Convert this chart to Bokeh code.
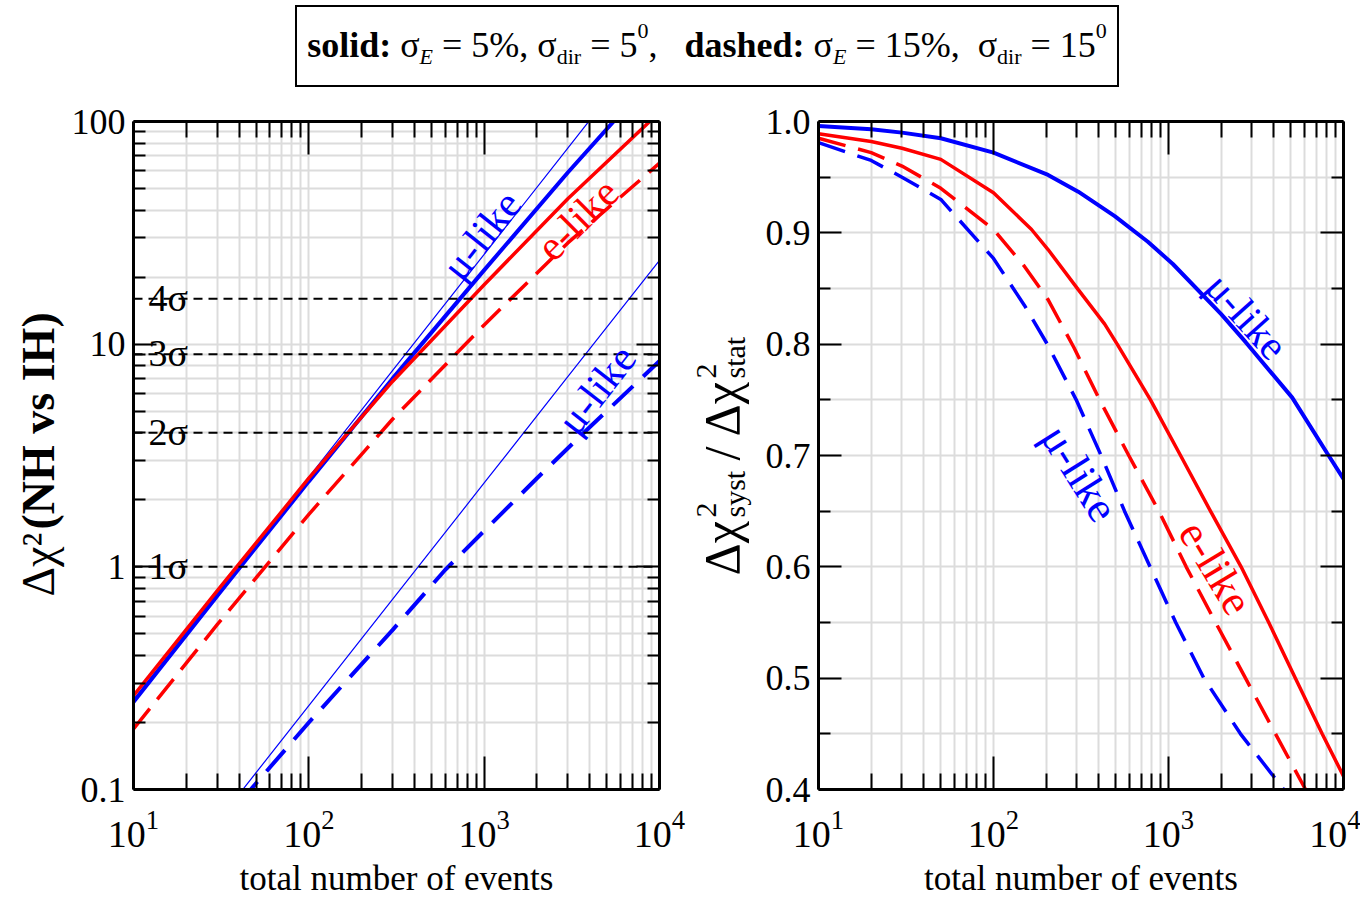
from bokeh.plotting import figure
from bokeh.models import (FixedTicker, LogAxis, LinearAxis, Label, Span, LogTickFormatter,
                          CustomJSTickFormatter, NumeralTickFormatter, Div)
from bokeh.layouts import column, row
from bokeh.embed import file_html
from bokeh.resources import INLINE

# ---------------- data ----------------
# left panel: Delta chi^2 (NH vs IH) vs total number of events
n_left = [10, 30, 100, 300, 1000, 3000, 10000]
chi2_mu_stat = [0.253, 0.76, 2.53, 7.6, 25.3, 76.0, 253.0]        # thin blue (upper)
chi2_mu_solid = [0.247, 0.74, 2.42, 7.0, 21.5, 59.0, 170.0]       # thick blue solid
chi2_e_solid = [0.264, 0.78, 2.5, 6.8, 18.5, 45.0, 110.0]         # red solid
chi2_e_dashed = [0.187, 0.55, 1.72, 4.6, 12.2, 28.5, 65.0]        # red dashed
chi2_mu_stat_low = [0.0238, 0.0714, 0.238, 0.714, 2.38, 7.14, 23.8]  # thin blue (lower)
n_mu_dashed = [40, 100, 300, 600, 1000, 2000, 3700, 10000]
chi2_mu_dashed = [0.087, 0.2, 0.52, 0.97, 1.45, 2.5, 4.0, 8.4]    # thick blue dashed

sigma_levels = [1, 4, 9, 16]
sigma_labels = ["1σ", "2σ", "3σ", "4σ"]

# right panel: ratio syst / stat
n_mu_solid_r = [10, 20, 30, 50, 100, 205, 305, 493, 762, 1059, 2000, 2754, 5093, 8067, 10000]
ratio_mu_solid = [0.996, 0.993, 0.990, 0.985, 0.972, 0.952, 0.937, 0.915, 0.892, 0.872,
                  0.827, 0.802, 0.752, 0.702, 0.679]
n_e_solid_r = [10, 20, 30, 50, 100, 165, 205, 305, 432, 509, 789, 1172, 1738, 2600, 3740,
               5310, 7550, 10000]
ratio_e_solid = [0.989, 0.982, 0.976, 0.966, 0.936, 0.903, 0.885, 0.849, 0.818, 0.800, 0.750,
                 0.700, 0.650, 0.600, 0.550, 0.500, 0.450, 0.412]
n_e_dashed_r = [10, 20, 30, 50, 100, 150, 205, 288, 404, 593, 881, 1262, 1815, 2754, 4087, 6070]
ratio_e_dashed = [0.985, 0.972, 0.960, 0.940, 0.903, 0.870, 0.840, 0.797, 0.750, 0.700,
                  0.650, 0.600, 0.553, 0.500, 0.450, 0.400]
n_mu_dashed_r = [10, 20, 30, 50, 100, 150, 203, 297, 412, 561, 785, 1100, 1592, 2578, 4560]
ratio_mu_dashed = [0.981, 0.965, 0.950, 0.930, 0.877, 0.835, 0.800, 0.750, 0.700, 0.650,
                   0.600, 0.550, 0.500, 0.450, 0.400]

# ticks
x_ticks = [10, 100, 1000, 10000]
x_minor = [m * d for d in (10, 100, 1000) for m in range(2, 10)]
left_y_ticks = [0.1, 1, 10, 100]
left_y_minor = [m * d for d in (0.1, 1, 10) for m in range(2, 10)]
right_y_ticks = [0.4, 0.5, 0.6, 0.7, 0.8, 0.9, 1.0]
right_y_minor = [0.45, 0.55, 0.65, 0.75, 0.85, 0.95]

# ---------------- styling ----------------
FONT = "Liberation Serif"
BLUE = "#0000ff"
RED = "#ff0000"
GRID = "#dcdcdc"
BORDER_TOP = 27
FRAME_H = 668
BORDER_BOTTOM = 112
FIG_H = BORDER_TOP + FRAME_H + BORDER_BOTTOM


def hide_labels(ax):
    ax.formatter = CustomJSTickFormatter(code="return '';")
    ax.major_label_text_font_size = "10px"
    ax.major_label_standoff = 0


def setup(p, y_axis_cls, y_ticks, y_minor, y_formatter):
    p.background_fill_color = "white"
    p.border_fill_color = "white"
    p.outline_line_color = None

    xt = FixedTicker(ticks=x_ticks, minor_ticks=x_minor)
    yt = FixedTicker(ticks=y_ticks, minor_ticks=y_minor)

    bottom = p.below[0]
    left = p.left[0]
    top = LogAxis()
    p.add_layout(top, "above")
    right = y_axis_cls()
    p.add_layout(right, "right")

    for ax in [bottom, top]:
        ax.ticker = xt
        ax.major_tick_in = 33
        ax.major_tick_out = 0
        ax.minor_tick_in = 16
        ax.minor_tick_out = 0
    hide_labels(top)
    bottom.formatter = LogTickFormatter()
    bottom.major_label_text_font = FONT
    bottom.major_label_text_font_size = "38px"
    bottom.major_label_text_color = "black"
    bottom.major_label_standoff = 21
    bottom.axis_label = "total number of events"
    bottom.axis_label_text_font = FONT
    bottom.axis_label_text_font_size = "35px"
    bottom.axis_label_text_font_style = "normal"
    bottom.axis_label_text_color = "black"
    bottom.axis_label_standoff = 9

    for ax in [left, right]:
        ax.ticker = yt
        ax.major_tick_in = 23
        ax.major_tick_out = 0
        ax.minor_tick_in = 12
        ax.minor_tick_out = 0
    hide_labels(right)
    left.formatter = y_formatter
    left.major_label_text_font = FONT
    left.major_label_text_font_size = "36px"
    left.major_label_text_color = "black"
    left.major_label_standoff = 8
    for ax in [bottom, top, left, right]:
        ax.axis_line_width = 3
        ax.axis_line_color = "black"
        ax.major_tick_line_width = 2
        ax.minor_tick_line_width = 2
        ax.major_tick_line_color = "black"
        ax.minor_tick_line_color = "black"

    p.xgrid.ticker = xt
    p.ygrid.ticker = yt
    for g in [p.xgrid, p.ygrid]:
        g.grid_line_color = GRID
        g.grid_line_width = 2
        g.minor_grid_line_color = GRID
        g.minor_grid_line_width = 2


def lab(x, y, text, color, angle, size="42px"):
    return Label(x=x, y=y, text=text, angle=angle, text_align="center",
                 text_baseline="middle", text_font=FONT, text_font_size=size,
                 text_color=color)


def label_strip(width, pieces):
    """Narrow figure whose frame holds a composed, rotated axis title.
    Each piece is anchored at the middle of its text line."""
    s = figure(frame_width=width, frame_height=FIG_H, x_range=(0, width), y_range=(0, FIG_H),
               min_border=0, x_axis_location=None, y_axis_location=None,
               output_backend="svg", toolbar_location=None)
    s.outline_line_color = None
    s.background_fill_color = "white"
    s.border_fill_color = "white"
    s.xgrid.visible = False
    s.ygrid.visible = False
    for txt, xx, yy, sz, style in pieces:
        s.add_layout(Label(x=xx, y=yy, text=txt, angle=1.5708, text_align="left",
                           text_baseline="middle", text_font=FONT, text_font_size=sz,
                           text_font_style=style, text_color="black"))
    return s


# ---------------- left panel ----------------
p1 = figure(frame_width=526, frame_height=FRAME_H, x_axis_type="log", y_axis_type="log",
            x_range=(10, 10000), y_range=(0.1, 100), output_backend="svg",
            toolbar_location=None, min_border_left=65, min_border_right=29,
            min_border_top=BORDER_TOP, min_border_bottom=BORDER_BOTTOM)
setup(p1, LogAxis, left_y_ticks, left_y_minor,
      CustomJSTickFormatter(code="return tick < 1 ? tick.toFixed(1) : tick.toFixed(0);"))

for lev, txt in zip(sigma_levels, sigma_labels):
    p1.add_layout(Span(location=lev, dimension="width", line_color="black",
                       line_dash="9 6", line_width=2))
    p1.add_layout(Label(x=10, y=lev, x_offset=15, y_offset=1, text=txt,
                        text_align="left", text_baseline="alphabetic",
                        text_font=FONT, text_font_size="38px", text_color="black"))

p1.line(n_left, chi2_mu_stat, line_color=BLUE, line_width=1.2)
p1.line(n_left, chi2_mu_stat_low, line_color=BLUE, line_width=1.2)
p1.line(n_left, chi2_e_dashed, line_color=RED, line_width=3.5, line_dash="26 12")
p1.line(n_mu_dashed, chi2_mu_dashed, line_color=BLUE, line_width=4, line_dash="28 14")
p1.line(n_left, chi2_mu_solid, line_color=BLUE, line_width=4)
p1.line(n_left, chi2_e_solid, line_color=RED, line_width=3.5)

p1.add_layout(lab(966, 30.8, "μ-like", BLUE, 0.90))
p1.add_layout(lab(3412, 36.3, "e-like", RED, 0.785))
p1.add_layout(lab(4375, 6.25, "μ-like", BLUE, 0.91))

# ---------------- right panel ----------------
p2 = figure(frame_width=525, frame_height=FRAME_H, x_axis_type="log",
            x_range=(10, 10000), y_range=(0.4, 1.0), output_backend="svg",
            toolbar_location=None, min_border_left=64, min_border_right=17,
            min_border_top=BORDER_TOP, min_border_bottom=BORDER_BOTTOM)
setup(p2, LinearAxis, right_y_ticks, right_y_minor, NumeralTickFormatter(format="0.0"))

p2.line(n_mu_dashed_r, ratio_mu_dashed, line_color=BLUE, line_width=3.5, line_dash="28 13")
p2.line(n_e_dashed_r, ratio_e_dashed, line_color=RED, line_width=3.5, line_dash="28 13")
p2.line(n_e_solid_r, ratio_e_solid, line_color=RED, line_width=3.5)
p2.line(n_mu_solid_r, ratio_mu_solid, line_color=BLUE, line_width=4)

p2.add_layout(lab(2793, 0.825, "μ-like", BLUE, -0.84))
p2.add_layout(lab(310, 0.684, "μ-like", BLUE, -1.01, size="44px"))
p2.add_layout(lab(1858, 0.599, "e-like", RED, -1.03, size="44px"))

# ---------------- axis titles (rotated, composed) ----------------
yl1 = label_strip(68, [
    ("Δχ²", 38, 332, "46px", "normal"),
    ("(NH vs IH)", 38, 399, "46px", "bold"),
])
yl2 = label_strip(66, [
    ("Δχ", 33, 353, "50px", "normal"),
    ("2", 18, 411, "30px", "normal"),
    ("syst", 46, 411, "30px", "normal"),
    ("/", 33, 468, "50px", "normal"),
    ("Δχ", 33, 492, "50px", "normal"),
    ("2", 18, 550, "30px", "normal"),
    ("stat", 46, 550, "30px", "normal"),
])

# ---------------- title box ----------------
sub = '<span style="font-size:22px; position:relative; top:11px;">'
sup = '<span style="font-size:22px; position:relative; top:-15px;">'
title_html = (
    '<div style="box-sizing:border-box; margin-left:290px; width:824px; height:82px; '
    'border:2px solid #000; display:flex; align-items:center; justify-content:center; '
    'white-space:nowrap; font-family:\'Liberation Serif\'; font-size:36px; color:#000;">'
    '<b>solid:</b>&nbsp;σ' + sub + '<i>E</i></span>&nbsp;=&nbsp;5%, σ' + sub + 'dir</span>'
    '&nbsp;=&nbsp;5' + sup + '0</span>,&nbsp;&nbsp;&nbsp;<b>dashed:</b>&nbsp;σ' + sub +
    '<i>E</i></span>&nbsp;=&nbsp;15%,&nbsp;&nbsp;σ' + sub + 'dir</span>&nbsp;=&nbsp;15' + sup +
    '0</span></div>'
)
title = Div(text=title_html, width=1356, height=84)

layout = column(title, row(yl1, p1, yl2, p2))
open("out.html", "w").write(file_html(layout, INLINE))
